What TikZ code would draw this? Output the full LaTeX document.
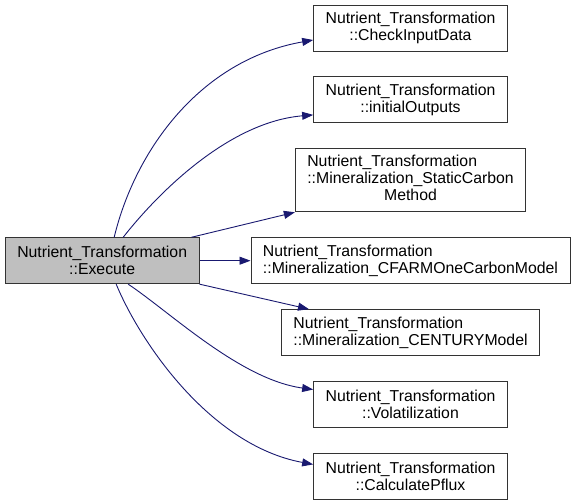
\documentclass[tikz,border=0pt]{standalone}
\usepackage{fontspec}
\setmainfont{Liberation Sans}
\usetikzlibrary{arrows.meta, positioning}
\definecolor{callblue}{HTML}{191970}

\begin{document}
\begin{tikzpicture}[
  x=1pt, y=1pt,
  fn/.style={rectangle, draw=black!80, line width=0.9pt, fill=white,
             minimum height=46pt, inner xsep=12pt,
             font=\fontsize{15.8}{17}\selectfont, align=center},
  call/.style={draw=callblue, line width=0.9pt,
               -{Triangle[length=11pt, width=8pt]}},
  node distance=25pt
]
  \useasboundingbox (0,0) rectangle (579,-499);

  % callees, one column
  \node[fn] (chk) at (410.5,-28) {Nutrient\_Transformation\\::CheckInputData};
  \node[fn, below=of chk] (init) {Nutrient\_Transformation\\::initialOutputs};
  \node[fn, below=of init, minimum height=63pt] (stc)
    {\begin{tabular}{@{}l@{}}Nutrient\_Transformation\\::Mineralization\_StaticCarbon\\
     \multicolumn{1}{@{}c@{}}{Method}\end{tabular}};
  \node[fn, below=of stc, align=left] (cfarm)
    {Nutrient\_Transformation\\::Mineralization\_CFARMOneCarbonModel};
  \node[fn, below=of cfarm, align=left] (cent)
    {Nutrient\_Transformation\\::Mineralization\_CENTURYModel};
  \node[fn, below=of cent] (vol) {Nutrient\_Transformation\\::Volatilization};
  \node[fn, below=of vol] (pflux) {Nutrient\_Transformation\\::CalculatePflux};

  % caller
  \node[fn, fill=black!25, left=51pt of cfarm] (exe) {Nutrient\_Transformation\\::Execute};

  \draw[call] ([xshift=12pt]exe.north) .. controls +(21,87) and +(-113,-20) .. ([yshift=-12pt]chk.west);
  \draw[call] ([xshift=21pt]exe.north) .. controls +(37,47) and +(-83,-7) .. ([yshift=-15pt]init.west);
  \draw[call] ([xshift=-8pt]exe.north east) -- (stc.south west);
  \draw[call] (exe) -- (cfarm);
  \draw[call] (exe.south east) -- ([xshift=28pt]cent.north west);
  \draw[call] ([xshift=26pt]exe.south) .. controls +(42,-28) and +(-73,10) .. ([yshift=15pt]vol.west);
  \draw[call] ([xshift=14pt]exe.south) .. controls +(24,-58) and +(-103,19) .. ([yshift=12pt]pflux.west);
\end{tikzpicture}
\end{document}
